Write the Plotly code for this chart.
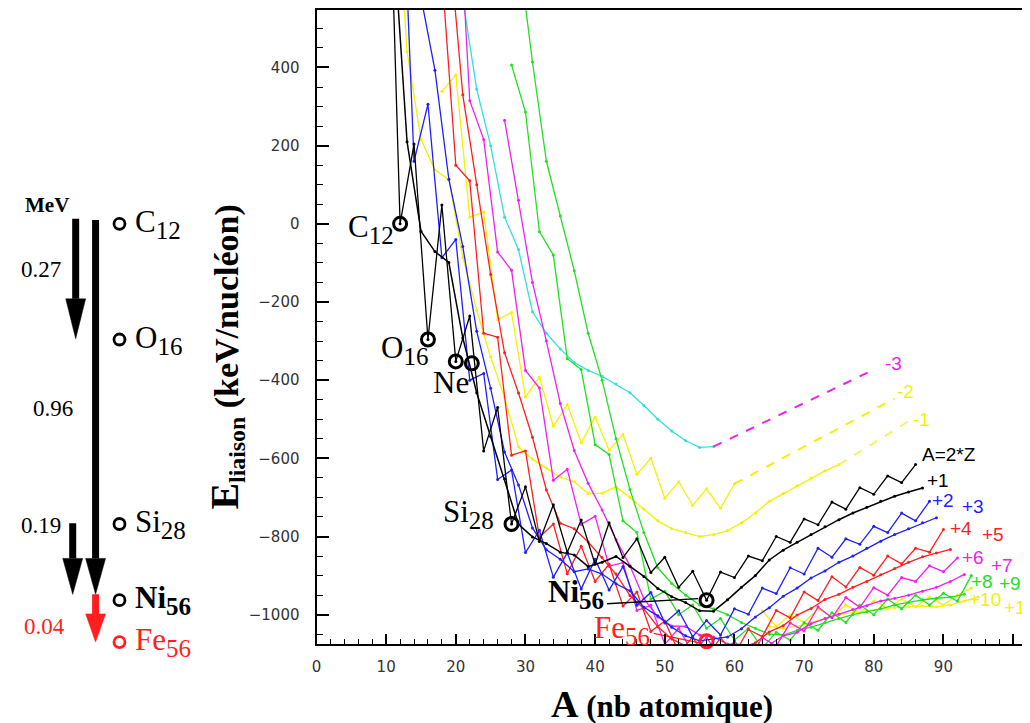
import plotly.graph_objects as go

# ---------------- data: binding energy per nucleon relative to C12 (keV) ----------------
# chains A = 2Z + k
A_k0 = list(range(10, 87, 2))
E_k0 = [1205, 0, 204, -296, 48, -352, -236, -581, -470, -768, -673, -813, -719, -840, -758,
        -871, -765, -854, -806, -892, -853, -930, -889, -963, -891, -905, -850, -862, -800,
        -815, -755, -770, -712, -730, -675, -692, -645, -662, -616]
A_k1 = list(range(11, 88, 2))
E_k1 = [752, 210, -19, -71, -99, -292, -432, -544, -652, -769, -801, -818, -840, -847, -877,
        -866, -851, -876, -902, -933, -954, -969, -990, -991, -962, -930, -900, -860, -835,
        -815, -795, -775, -757, -740, -725, -710, -697, -686, -676]
A_k2 = list(range(12, 89, 2))
E_k2 = [1049, 160, 306, -87, -40, -400, -383, -654, -630, -841, -784, -904, -842, -934, -858,
        -937, -877, -976, -943, -1021, -990, -1056, -1015, -1052, -985, -999, -932, -946, -880,
        -896, -830, -853, -806, -820, -774, -790, -740, -760, -710]
A_k3 = list(range(13, 90, 2))
E_k3 = [1184, 580, 393, 114, -58, -275, -421, -584, -668, -778, -834, -858, -890, -883, -896,
        -921, -939, -981, -1003, -1032, -1054, -1067, -1062, -1057, -1036, -1006, -982, -953,
        -932, -906, -888, -866, -850, -830, -812, -795, -780, -765, -752]
A_k4 = list(range(16, 91, 2))
E_k4 = [758, 642, 150, 110, -280, -290, -592, -581, -802, -768, -895, -825, -915, -871, -978,
        -942, -1043, -1016, -1096, -1058, -1110, -1059, -1101, -1038, -1056, -989, -1008, -942,
        -964, -903, -929, -879, -899, -850, -870, -830, -840, -782]
A_k5 = list(range(19, 92, 2))
E_k5 = [732, 330, 100, -130, -330, -433, -546, -681, -766, -780, -814, -854, -896, -951, -985,
        -1031, -1062, -1080, -1085, -1090, -1088, -1085, -1072, -1044, -1028, -1001, -984, -961,
        -948, -930, -915, -898, -882, -866, -852, -842, -833]
A_k6 = list(range(20, 93, 2))
E_k6 = [971, 315, 216, -72, -119, -375, -420, -656, -628, -769, -748, -876, -867, -989, -976,
        -1076, -1035, -1098, -1058, -1112, -1067, -1115, -1059, -1080, -1021, -1042, -980, -1008,
        -956, -981, -931, -950, -905, -915, -875, -890, -855]
A_k7 = list(range(27, 94, 2))
E_k7 = [265, 60, -150, -300, -460, -580, -664, -732, -808, -875, -959, -1006, -1029, -1030,
        -1052, -1057, -1075, -1076, -1083, -1077, -1054, -1045, -1023, -1010, -999, -987, -977,
        -965, -958, -950, -940, -930, -915, -897]
A_k8 = list(range(28, 95, 2))
E_k8 = [406, 286, -20, -80, -345, -373, -565, -590, -760, -790, -960, -940, -1000, -975, -1035,
        -1010, -1065, -1035, -1085, -1045, -1065, -1020, -1040, -995, -1020, -975, -1000, -960,
        -985, -950, -975, -945, -965, -900]
A_k9 = list(range(29, 94, 2))
E_k9 = [700, 414, 160, 20, -120, -280, -400, -550, -680, -790, -880, -920, -950, -975, -985,
        -1000, -1020, -1035, -1050, -1052, -1040, -1032, -1020, -1010, -1000, -993, -985, -975,
        -968, -962, -958, -955, -948]
A_k10 = list(range(64, 95, 2))
E_k10 = [-990, -1030, -1000, -1020, -985, -1005, -975, -995, -965, -985, -960, -980, -955, -975,
         -950, -932]
A_k11 = list(range(65, 96, 2))
E_k11 = [-1030, -1035, -1030, -1020, -1010, -1000, -995, -990, -985, -982, -980, -978, -980,
         -975, -965, -955]
A_km1 = list(range(11, 76, 2))
E_km1 = [1004, 441, 216, 138, 113, -86, -221, -341, -444, -571, -602, -625, -648, -660, -690,
         -689, -673, -700, -730, -760, -780, -790, -800, -795, -785, -765, -740, -710, -690,
         -670, -650, -632, -616]
A_km2 = list(range(18, 61, 2))
E_km2 = [339, 381, 17, 30, -245, -227, -443, -392, -518, -462, -560, -494, -579, -539, -641,
         -600, -702, -660, -720, -678, -728, -665]
A_km3 = list(range(21, 58, 2))
E_km3 = [575, 344, 200, 17, -66, -225, -280, -320, -355, -375, -390, -410, -432, -465, -500,
         -530, -555, -572, -570]
# dashed extrapolations
A_ext_m1 = [75, 85]
E_ext_m1 = [-616, -505]
A_ext_m2 = [60, 83]
E_ext_m2 = [-665, -447]
A_ext_m3 = [57, 80]
E_ext_m3 = [-570, -373]

# highlighted nuclei
nuc_A = [12, 16, 20, 22.3, 28, 56]
nuc_E = [0, -296, -352, -357, -768, -963]
fe_A = [56]
fe_E = [-1068]

# left-hand energy ladder (keV/nucleon)
ladder_sym = ["C", "O", "Si", "Ni", "Fe"]
ladder_num = ["12", "16", "28", "56", "56"]
ladder_E = [0, -296, -768, -963, -1070]
step_labels = ["0.27", "0.96", "0.19", "0.04"]

x_ticks = [0, 10, 20, 30, 40, 50, 60, 70, 80, 90, 100]
x_ticktext = ["0", "10", "20", "30", "40", "50", "60", "70", "80", "90", ""]
y_ticks = [-1000, -800, -600, -400, -200, 0, 200, 400]

# ---------------- styling ----------------
BLACK = "#000000"
BLUE = "#1f1fff"
RED = "#ff1f1f"
MAG = "#f020f0"
GREEN = "#22e022"
YEL = "#f2f200"
CYAN = "#30e0e0"
SERIF = "Liberation Serif, Times New Roman, serif"
SANS = "Liberation Sans, Arial, sans-serif"

# the page body adds an 8px offset: the figure is sized so the plot lands where intended
FIG_W, FIG_H = 1022, 715
PAPER_W = FIG_W - 2


def nuclide(sym, num, bold=False, sub_px=25):
    t = f"{sym}<sub><span style='font-size:{sub_px}px'>{num}</span></sub>"
    return f"<b>{t}</b>" if bold else t


fig = go.Figure()


def chain(A, E, color, width=1.3, dash="solid", msize=3):
    fig.add_trace(go.Scatter(x=A, y=E, mode="lines+markers" if msize else "lines",
                             line=dict(color=color, width=width, dash=dash),
                             marker=dict(size=msize, color=color), showlegend=False,
                             hoverinfo="skip"))


chain(A_km3, E_km3, CYAN)
chain(A_km2, E_km2, YEL)
chain(A_km1, E_km1, YEL)
chain(A_k11, E_k11, YEL)
chain(A_k10, E_k10, YEL)
chain(A_k9, E_k9, GREEN)
chain(A_k8, E_k8, GREEN)
chain(A_k7, E_k7, MAG)
chain(A_k6, E_k6, MAG)
chain(A_k5, E_k5, RED)
chain(A_k4, E_k4, RED)
chain(A_k3, E_k3, BLUE)
chain(A_k2, E_k2, BLUE)
chain(A_k1, E_k1, BLACK, 1.5)
chain(A_k0, E_k0, BLACK, 1.3)
chain(A_ext_m3, E_ext_m3, MAG, 2, "dash", 0)
chain(A_ext_m2, E_ext_m2, YEL, 2, "dash", 0)
chain(A_ext_m1, E_ext_m1, "#f4f460", 2, "dash", 0)

# leader lines for Ni56 and Fe56 labels
fig.add_trace(go.Scatter(x=[41.7, nuc_A[5] - 1.2], y=[-972, nuc_E[5] + 4], mode="lines",
                         line=dict(color=BLACK, width=1.3), showlegend=False, hoverinfo="skip"))
fig.add_trace(go.Scatter(x=[48.4, fe_A[0] - 1.0], y=[-1048, fe_E[0] - 4], mode="lines",
                         line=dict(color=RED, width=1.3), showlegend=False, hoverinfo="skip"))

fig.add_trace(go.Scatter(x=nuc_A, y=nuc_E, mode="markers",
                         marker=dict(symbol="circle-open", size=13, color=BLACK, line=dict(width=3)),
                         showlegend=False, hoverinfo="skip", cliponaxis=False))
fig.add_trace(go.Scatter(x=fe_A, y=fe_E, mode="markers",
                         marker=dict(symbol="circle-open", size=13, color=RED, line=dict(width=3)),
                         showlegend=False, hoverinfo="skip", cliponaxis=False))

# left ladder markers (separate invisible subplot sharing the energy axis)
LADDER_X = 115
ladder_colors = [BLACK, BLACK, BLACK, BLACK, RED]
fig.add_trace(go.Scatter(x=[LADDER_X] * len(ladder_E), y=ladder_E, xaxis="x2", yaxis="y",
                         mode="markers",
                         marker=dict(symbol="circle-open", size=11, color=ladder_colors,
                                     line=dict(width=2.8)),
                         showlegend=False, hoverinfo="skip", cliponaxis=False))

annotations = []
for sym, num, e, c in zip(ladder_sym, ladder_num, ladder_E, ladder_colors):
    annotations.append(dict(x=129, y=e, xref="x2", yref="y",
                            text=nuclide(sym, num, bold=(sym == "Ni")), showarrow=False,
                            xanchor="left", yanchor="middle",
                            font=dict(family=SERIF, size=31, color=c)))
annotations.append(dict(x=42, y=48, xref="x2", yref="y", text="<b>MeV</b>", showarrow=False,
                        font=dict(family=SERIF, size=21, color=BLACK)))
for txt, (lx, ly), c in zip(step_labels, [(36, -118), (48, -472), (36, -772), (40, -1030)],
                            [BLACK, BLACK, BLACK, RED]):
    annotations.append(dict(x=lx, y=ly, xref="x2", yref="y", text=txt, showarrow=False,
                            font=dict(family=SERIF, size=23, color=c)))

# arrows of the ladder: (x, from level, to level, color, head length in keV units)
shapes = []
arrow_specs = [(71, ladder_E[0] + 13, ladder_E[1] + 2, BLACK, 102),
               (91, ladder_E[0] + 10, ladder_E[3] + 15, BLACK, 92),
               (68, ladder_E[2] + 2, ladder_E[3] + 15, BLACK, 92),
               (91, ladder_E[3] + 15, ladder_E[4], RED, 72)]
for x, y0, y1, c, hl in arrow_specs:
    yb = y1 + hl
    shapes.append(dict(type="line", xref="x2", yref="y", x0=x, x1=x, y0=y0, y1=yb,
                       line=dict(color=c, width=7)))
    shapes.append(dict(type="path", xref="x2", yref="y",
                       path=f"M {x-10},{yb} L {x+10},{yb} L {x},{y1} Z",
                       fillcolor=c, line=dict(color=c, width=0.5)))

# labels inside the main plot
main_labels = [(nuclide("C", "12"), 11.4, -14, BLACK),
               (nuclide("O", "16"), 16.3, -322, BLACK),
               ("Ne", 22.2, -405, BLACK),
               (nuclide("Si", "28"), 25.7, -742, BLACK),
               (nuclide("Ni", "56", bold=True), 41.6, -948, BLACK),
               (nuclide("Fe", "56"), 48.2, -1040, RED)]
for txt, x, y, c in main_labels:
    annotations.append(dict(x=x, y=y, xref="x", yref="y", text=txt, showarrow=False,
                            xanchor="right", yanchor="middle",
                            font=dict(family=SERIF, size=31, color=c)))

chain_labels = [("A=2*Z", 86.7, -590, BLACK), ("+1", 87.4, -656, BLACK),
                ("+2", 88.1, -708, BLUE), ("+3", 92.4, -723, BLUE),
                ("+4", 90.6, -780, RED), ("+5", 95.3, -795, RED),
                ("+6", 92.4, -853, MAG), ("+7", 96.6, -874, MAG),
                ("+8", 93.7, -916, GREEN), ("+9", 97.7, -920, GREEN),
                ("+10", 93.4, -960, YEL), ("+11", 98.4, -982, YEL),
                ("-3", 81.3, -358, MAG), ("-2", 83.1, -428, YEL), ("-1", 85.3, -500, YEL)]
for txt, x, y, c in chain_labels:
    annotations.append(dict(x=x, y=y, xref="x", yref="y", text=txt, showarrow=False,
                            xanchor="left", yanchor="middle",
                            font=dict(family=SANS, size=19, color=c)))

# axis titles
annotations.append(dict(x=652 / PAPER_W, y=-0.094, xref="paper", yref="paper",
                        text="<b><span style='font-size:38px'>A</span> (nb atomique)</b>",
                        showarrow=False, xanchor="center", yanchor="middle",
                        font=dict(family=SERIF, size=31, color=BLACK)))
annotations.append(dict(x=0.21, y=0.452, xref="paper", yref="paper",
                        text="<b><span style='font-size:40px'>E</span><sub>liaison</sub> (keV/nucléon)</b>",
                        textangle=-90,
                        showarrow=False, xanchor="center", yanchor="middle",
                        font=dict(family=SERIF, size=34, color=BLACK)))

fig.update_layout(
    width=FIG_W, height=FIG_H,
    margin=dict(l=0, r=2, t=1, b=79),
    paper_bgcolor="white", plot_bgcolor="white",
    showlegend=False,
    xaxis=dict(domain=[305 / PAPER_W, 1019 / PAPER_W], range=[0, 102], tickvals=x_ticks,
               ticktext=x_ticktext, ticks="inside", ticklen=10, tickwidth=1.5,
               tickcolor=BLACK, showline=True, linecolor=BLACK, linewidth=2, mirror=True,
               showgrid=False, zeroline=False, ticklabelstandoff=8,
               tickfont=dict(family="DejaVu Sans", size=15, color="#333333"),
               minor=dict(dtick=2, ticks="inside", ticklen=5, tickwidth=1.2, tickcolor=BLACK,
                          showgrid=False)),
    yaxis=dict(range=[-1075, 547], tickvals=y_ticks, ticks="inside", ticklen=12, tickwidth=1.5,
               tickcolor=BLACK, showline=True, linecolor=BLACK, linewidth=2, mirror=True,
               showgrid=False, zeroline=False, ticklabelstandoff=12,
               tickfont=dict(family="DejaVu Sans", size=15, color="#333333"),
               minor=dict(dtick=50, ticks="inside", ticklen=6, tickwidth=1.2, tickcolor=BLACK,
                          showgrid=False)),
    xaxis2=dict(domain=[0, 232 / PAPER_W], range=[8, 240], visible=False, anchor="y"),
    annotations=annotations,
    shapes=shapes,
)

fig.write_html("out.html")
